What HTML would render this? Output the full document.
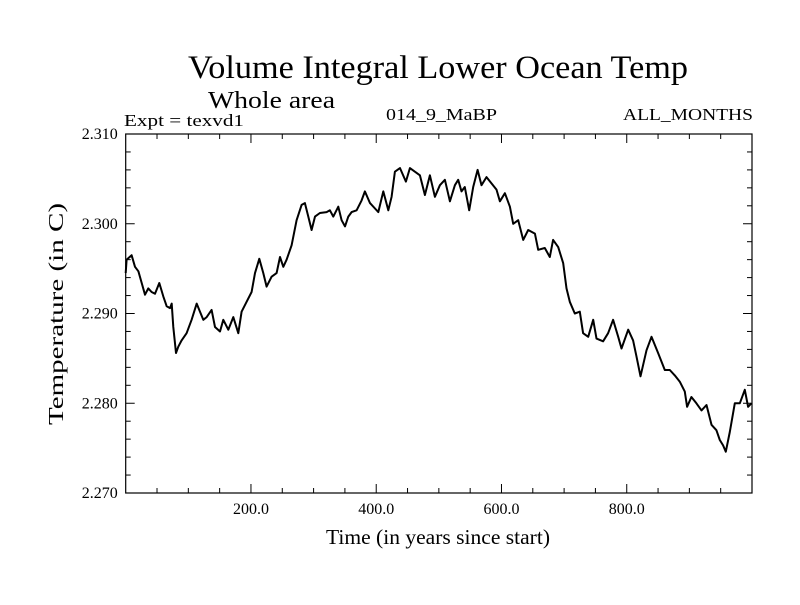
<!DOCTYPE html>
<html><head><meta charset="utf-8"><style>
html,body{margin:0;padding:0;background:#fff}
svg text{font-family:"Liberation Serif",serif;fill:#000}
</style></head><body>
<svg id="chart" width="800" height="600">
<text x="188" y="78" font-size="33" textLength="500" lengthAdjust="spacingAndGlyphs">Volume Integral Lower Ocean Temp</text>
<text x="208" y="108" font-size="24" textLength="127" lengthAdjust="spacingAndGlyphs">Whole area</text>
<text x="124" y="126" font-size="17" textLength="120" lengthAdjust="spacingAndGlyphs">Expt = texvd1</text>
<text x="386" y="120" font-size="17" textLength="111" lengthAdjust="spacingAndGlyphs">014_9_MaBP</text>
<text x="623" y="120" font-size="17" textLength="130" lengthAdjust="spacingAndGlyphs">ALL_MONTHS</text>
<text x="326" y="544" font-size="21" textLength="224" lengthAdjust="spacingAndGlyphs">Time (in years since start)</text>
<text transform="translate(63,425) rotate(-90)" font-size="21" textLength="222" lengthAdjust="spacingAndGlyphs">Temperature (in C)</text>
<g id="axes"></g>
<g id="marks"></g>
</svg>
<script>
const years=[0,1.5,9.5,14.9,20.2,25.5,30.8,36.1,41.4,46.8,53.7,60.1,65.4,70.8,73.4,76,80.3,84,89.3,97.3,105.3,113.3,118.6,123.9,129.3,137.2,142.6,150.5,155.8,163.8,171.8,179.8,185.1,193.1,201.1,206.4,213.3,219.7,225,233,241,246.3,251.6,256.9,264.9,272.9,280.9,286.2,291.5,296.8,302.2,310.1,320.8,326.1,331.4,339.4,344.7,350.1,355.4,360.7,368.7,376.7,382,390,398,403.3,411.3,419.3,424.6,429.9,437.9,447.4,453.8,461.8,469.8,477.8,485.7,493.7,501.7,509.7,
517.6,525.6,530.9,536.2,541.5,548.5,554.8,561.8,568.1,576.1,584.1,592.1,597.4,605.4,613.4,618.7,626.7,634.7,642.6,653.3,658.6,669.2,677.2,682.5,690.5,698.5,703.8,709.1,717.1,725.1,730.4,738.4,746.4,751.7,762.3,770.3,778.3,786.3,791.6,802.3,810.2,815.6,821.9,831.5,839.5,850.1,860.8,868.8,876.7,884.7,892.7,896.4,903.3,911.3,919.3,927.3,935.3,943.2,948.6,953.9,958.2,964.5,972.5,980.5,988.5,993.8,999.1];
const temps=[2.2945,2.2960,2.2965,2.2952,2.2947,2.2934,2.2921,2.2928,2.2924,2.2922,2.2934,2.2919,2.2908,2.2906,2.2911,2.2885,2.2856,2.2863,2.2870,2.2878,2.2893,2.2911,2.2902,2.2893,2.2896,2.2904,2.2885,2.2880,2.2893,2.2882,2.2896,2.2878,2.2902,2.2913,2.2924,2.2945,2.2961,2.2945,2.2930,2.2941,2.2945,2.2963,2.2952,2.2960,2.2976,2.3004,2.3021,2.3023,2.3008,2.2993,2.3008,2.3012,2.3013,2.3015,2.3008,2.3019,2.3004,2.2997,2.3008,2.3013,2.3015,2.3026,2.3036,2.3023,2.3017,2.3013,2.3036,2.3015,2.3030,2.3058,2.3062,2.3047,2.3062,2.3058,2.3054,2.3032,2.3054,2.3030,2.3043,2.3049,
2.3025,2.3043,2.3049,2.3036,2.3041,2.3015,2.3041,2.3060,2.3043,2.3052,2.3045,2.3038,2.3025,2.3034,2.3019,2.3000,2.3004,2.2982,2.2993,2.2989,2.2971,2.2973,2.2963,2.2982,2.2974,2.2956,2.2928,2.2913,2.2900,2.2902,2.2878,2.2874,2.2893,2.2872,2.2869,2.2878,2.2893,2.2874,2.2861,2.2882,2.2870,2.2852,2.2830,2.2859,2.2874,2.2856,2.2837,2.2837,2.2831,2.2824,2.2813,2.2796,2.2807,2.2800,2.2792,2.2798,2.2776,2.2770,2.2759,2.2753,2.2746,2.2768,2.2800,2.2800,2.2815,2.2796,2.2800];
const xTicks=[200,400,600,800];
const xTickLabels=["200.0","400.0","600.0","800.0"];
const yTicks=[2.270,2.280,2.290,2.300,2.310];
const yTickLabels=["2.270","2.280","2.290","2.300","2.310"];
const X0=0,X1=1000,Y0=2.270,Y1=2.310;
const L=125.7,R=752,T=134,B=493;
const sx=v=>L+(v-X0)/(X1-X0)*(R-L);
const sy=v=>B-(v-Y0)/(Y1-Y0)*(B-T);
const NS='http://www.w3.org/2000/svg';
const axes=document.getElementById('axes'),marks=document.getElementById('marks');
function mk(tag,attrs,parent){const e=document.createElementNS(NS,tag);for(const k in attrs)e.setAttribute(k,attrs[k]);parent.appendChild(e);return e;}
const frame=mk('rect',{x:L,y:T,width:R-L,height:B-T,fill:'none',stroke:'#000','stroke-width':1.2},axes);


for(let v=50;v<X1;v+=50){const major=v%200===0;const len=major?9:5;
 const t1=mk('line',{x1:sx(v),x2:sx(v),y1:B,y2:B-len,stroke:'#000','stroke-width':1},axes);
 
 
 const t2=mk('line',{x1:sx(v),x2:sx(v),y1:T,y2:T+len,stroke:'#000','stroke-width':1},axes);
 
 }
xTicks.forEach((v,i)=>{const t=mk('text',{x:sx(v),y:B+21,'font-size':16,'text-anchor':'middle'},axes);t.textContent=xTickLabels[i];
 
 });
for(let k=1;k<20;k++){const v=Y0+k*0.002;const major=k%5===0;const len=major?9:5;
 const t1=mk('line',{x1:L,x2:L+len,y1:sy(v),y2:sy(v),stroke:'#000','stroke-width':1},axes);
 
 
 const t2=mk('line',{x1:R,x2:R-len,y1:sy(v),y2:sy(v),stroke:'#000','stroke-width':1},axes);
 
 }
yTicks.forEach((v,i)=>{const t=mk('text',{x:L-8,y:sy(v)+5,'font-size':16,'text-anchor':'end'},axes);t.textContent=yTickLabels[i];
 
 });
const d=years.map((y,i)=>(i?'L':'M')+sx(y).toFixed(1)+','+sy(temps[i]).toFixed(1)).join('');
const line=mk('path',{d:d,fill:'none',stroke:'#000','stroke-width':2,'stroke-linejoin':'round'},marks);


</script>
</body></html>
